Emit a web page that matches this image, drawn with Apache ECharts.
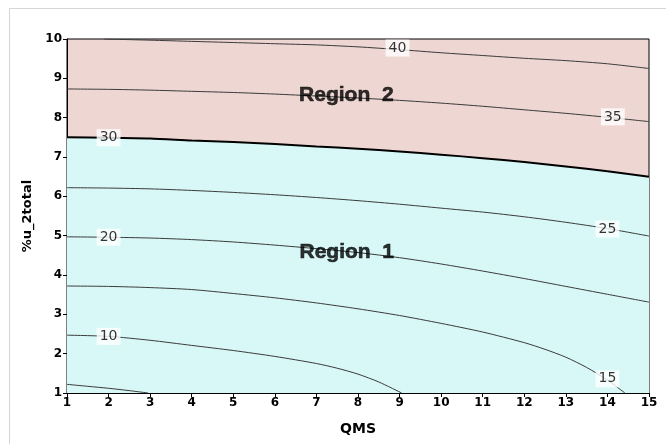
<!DOCTYPE html>
<html>
<head>
<meta charset="utf-8">
<script src="https://cdn.jsdelivr.net/npm/echarts@6/dist/echarts.min.js"></script>
<style>html,body{margin:0;padding:0;background:#fff}#c{width:666px;height:444px}</style>
</head>
<body>
<div id="c"></div>
<script>
// Contour lines: [QMS, %u_2total]
var contour5  = [[1,1.22],[1.5,1.17],[2,1.12],[2.5,1.06],[2.95,1.0]];
var contour10 = [[1,2.47],[2,2.44],[3,2.34],[4,2.21],[5,2.08],[6,1.93],[7,1.75],[7.5,1.63],[8,1.48],[8.5,1.28],[9.05,1.0]];
var contour15 = [[1,3.72],[2,3.71],[3,3.68],[4,3.63],[5,3.53],[6,3.42],[7,3.29],[8,3.14],[9,2.97],[10,2.77],[11,2.55],[12,2.28],[12.5,2.11],[13,1.91],[13.5,1.65],[14,1.33],[14.42,1.0]];
var contour20 = [[1,4.97],[2,4.96],[3,4.94],[4,4.90],[5,4.84],[6,4.76],[7,4.67],[8,4.57],[9,4.44],[10,4.28],[11,4.10],[12,3.91],[13,3.71],[14,3.51],[15,3.31]];
var contour25 = [[1,6.22],[2,6.21],[3,6.19],[4,6.15],[5,6.10],[6,6.04],[7,5.97],[8,5.89],[9,5.80],[10,5.70],[11,5.60],[12,5.48],[13,5.34],[14,5.18],[15,4.99]];
var contour30 = [[1,7.50],[2,7.49],[3,7.47],[4,7.42],[5,7.38],[6,7.33],[7,7.27],[8,7.21],[9,7.14],[10,7.06],[11,6.97],[12,6.87],[13,6.76],[14,6.64],[15,6.50]];
var contour35 = [[1,8.73],[2,8.72],[3,8.70],[4,8.67],[5,8.64],[6,8.60],[7,8.55],[8,8.50],[9,8.44],[10,8.37],[11,8.29],[12,8.20],[13,8.11],[14,8.01],[15,7.90]];
var contour40 = [[1.9,10.0],[3,9.97],[4,9.94],[5,9.91],[6,9.88],[7,9.85],[8,9.80],[9,9.73],[10,9.65],[11,9.58],[12,9.51],[13,9.45],[14,9.37],[15,9.25]];

var contourLabels = [[2.0,7.49,'30'],[2.0,4.96,'20'],[2.0,2.44,'10'],[8.95,9.77,'40'],[14.13,8.02,'35'],[14.0,5.17,'25'],[14.0,1.36,'15']];
var regionLabels = [[7.73,4.58,'Region  1'],[7.72,8.58,'Region  2']];

var xTicks = {min:1, max:15, interval:1};
var yTicks = {min:1, max:10, interval:1};

var pink = '#EED7D2', cyan = '#D8F8F8';

function thin(d){
  return {type:'line', data:d, showSymbol:false, symbol:'none', smooth:0.25,
    lineStyle:{color:'#3a3a3a', width:1}, z:3, silent:true};
}

var chart = echarts.init(document.getElementById('c'), null, {renderer:'canvas'});
chart.setOption({
  animation:false,
  backgroundColor:'#fff',
  graphic:[{type:'rect', left:7, top:6, shape:{width:720, height:500}, style:{fill:'none', stroke:'#d6d6d6', lineWidth:1}, z:-10}],
  grid:{left:67, right:17, top:39, bottom:51, show:true, backgroundColor:pink, borderColor:'#000', borderWidth:1},
  xAxis:{type:'value', min:xTicks.min, max:xTicks.max, interval:xTicks.interval,
    name:'QMS', nameLocation:'middle', nameGap:29,
    nameTextStyle:{fontFamily:'DejaVu Sans', fontWeight:'bold', fontSize:14, color:'#000'},
    axisLine:{lineStyle:{color:'#000', width:1}}, axisTick:{length:4, lineStyle:{color:'#000'}},
    axisLabel:{fontFamily:'DejaVu Sans', fontWeight:'bold', fontSize:12, color:'#000', margin:4},
    splitLine:{show:false}},
  yAxis:{type:'value', min:yTicks.min, max:yTicks.max, interval:yTicks.interval,
    name:'%u_2total', nameLocation:'middle', nameGap:33,
    nameTextStyle:{fontFamily:'DejaVu Sans', fontWeight:'bold', fontSize:13, color:'#000'},
    axisLine:{lineStyle:{color:'#000', width:1}}, axisTick:{length:4, lineStyle:{color:'#000'}},
    axisLabel:{fontFamily:'DejaVu Sans', fontWeight:'bold', fontSize:12, color:'#000', margin:5},
    splitLine:{show:false}},
  series:[
    {type:'line', data:contour30, showSymbol:false, symbol:'none', smooth:0.25,
      lineStyle:{color:'#000', width:2}, areaStyle:{color:cyan, opacity:1, origin:'start'}, z:2, silent:true},
    thin(contour5), thin(contour10), thin(contour15), thin(contour20), thin(contour25), thin(contour35), thin(contour40),
    {type:'scatter', data:contourLabels, symbolSize:1, itemStyle:{color:'rgba(0,0,0,0)'}, z:5, silent:true,
      label:{show:true, position:'inside', formatter:function(p){return p.data[2];},
        fontFamily:'DejaVu Sans', fontSize:14, color:'#000', backgroundColor:'#fff', padding:[2,3,1,3]}},
    {type:'scatter', data:regionLabels, symbolSize:1, itemStyle:{color:'rgba(0,0,0,0)'}, z:6, silent:true,
      label:{show:true, position:'inside', formatter:function(p){return p.data[2];},
        fontFamily:'Liberation Sans', fontWeight:'bold', fontSize:21, color:'#000',
        textBorderColor:'#000', textBorderWidth:0.6}}
  ]
});
</script>
</body>
</html>
